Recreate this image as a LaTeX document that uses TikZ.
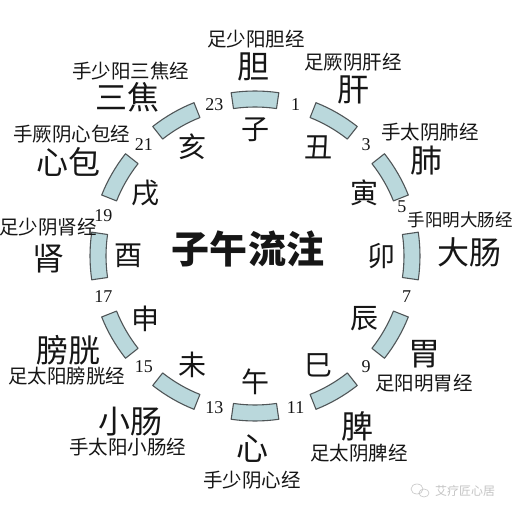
\documentclass[tikz,border=0pt]{standalone}
\usepackage{fontspec}
\newfontfamily\cjk{Noto Sans CJK SC}
\newfontfamily\numfont{Liberation Serif}
\usepackage{xcolor}
\definecolor{ringblue}{RGB}{186,216,220}
\definecolor{ringedge}{RGB}{80,86,88}
\definecolor{ink}{RGB}{22,22,22}
\definecolor{faint}{RGB}{196,196,196}
\usepackage{tikz}
\tikzset{
  %% ring segments, one per double hour
  segment/.style={fill=ringblue, draw=ringedge, line width=1.1pt, line join=round},
  %% texts
  branch/.style={font=\cjk\fontsize{28}{28}\selectfont, text=ink, inner sep=0pt},
  organ/.style={font=\cjk\fontsize{32}{32}\selectfont, text=ink, inner sep=0pt},
  channel/.style={font=\cjk\fontsize{19.5}{19.5}\selectfont, text=ink, inner sep=0pt},
  hour/.style={font=\numfont\fontsize{18}{18}\selectfont, text=ink, inner sep=0pt},
  headline/.style={font=\cjk\bfseries\fontsize{38}{38}\selectfont, text=ink, inner sep=0pt},
  stamp/.style={font=\cjk\fontsize{12}{12}\selectfont, text=faint, inner sep=0pt},
}

\begin{document}
\begin{tikzpicture}[x=1pt,y=1pt]
\useasboundingbox[fill=white] (-255,-257) rectangle (258,256);

%% ring
\foreach \i in {0,...,11}{
  \pgfmathsetmacro{\mid}{90-30*\i}
  \draw[segment] ({\mid-8.3}:149) arc[start angle={\mid-8.3}, end angle={\mid+8.3}, radius=149]
    -- ({\mid+8.3}:165) arc[start angle={\mid+8.3}, end angle={\mid-8.3}, radius=165] -- cycle;
}

%% earthly branches inside the ring
\foreach \b [count=\i from 0] in {子,丑,寅,卯,辰,巳,午,未,申,酉,戌,亥}
  \node[branch] (br\i) at ({90-30*\i}:126) {\b};

%% hour marks between segments
\foreach \h/\a/\r in {1/75/157, 3/45/157, 5/18.5/155, 7/-15/157, 9/-45/157, 11/-75/157,
                      13/-105/157, 15/-135/157, 17/-165/157, 19/165/157, 21/135/157, 23/105/157}
  \node[hour] (hr\h) at (\a:\r) {\h};

%% organs and their channels
\foreach \key/\org/\ox/\oy/\chan/\cx/\cy in {
    dan/胆/-2/189/足少阳胆经/1/217,
    gan/肝/98/166/足厥阴肝经/98/194,
    fei/肺/171/95/手太阴肺经/175/124,
    dachang/大肠/214/4/{\fontsize{17.5}{17.5}\selectfont 手阳明大肠经}/205/36,
    wei/胃/169/-98/足阳明胃经/169/-127,
    pi/脾/102/-170/足太阴脾经/104/-197,
    xin/心/-3/-193/手少阴心经/-3/-224,
    xiaochang/小肠/-124/-166/手太阳小肠经/-127/-191,
    pangguang/膀胱/-186/-94/足太阳膀胱经/-188/-120,
    shen/肾/-206/-3/足少阴肾经/-207/29,
    xinbao/心包/-186/94/手厥阴心包经/-183/122,
    sanjiao/三焦/-127/159/手少阳三焦经/-124/185}{
  \node[organ] (org-\key) at (\ox,\oy) {\org};
  \node[channel] (ch-\key) at (\cx,\cy) {\chan};
}

%% title
\node[headline] (title) at (-7,7) {子午流注};

%% watermark
\draw[faint, line width=0.6pt] (162,-233) ellipse[x radius=6, y radius=5]
  (169,-237) ellipse[x radius=5, y radius=4];
\node[stamp] (mark) at (210,-235) {艾疗匠心居};
\end{tikzpicture}
\end{document}
